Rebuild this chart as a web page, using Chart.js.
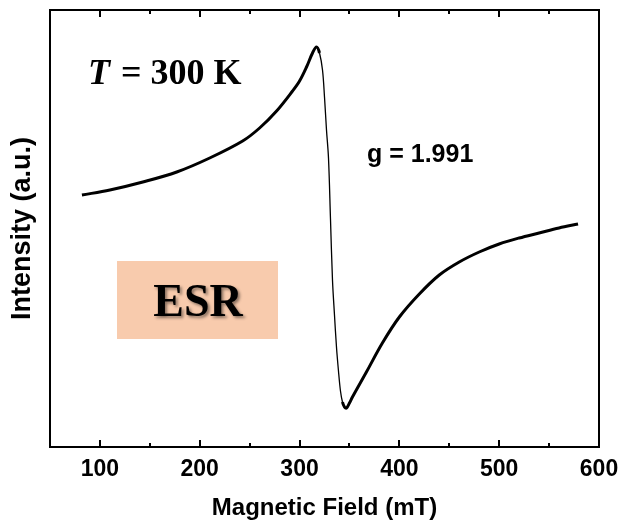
<!DOCTYPE html>
<html>
<head>
<meta charset="utf-8">
<script src="https://cdn.jsdelivr.net/npm/chart.js@4/dist/chart.umd.min.js"></script>
<style>
  html, body { margin: 0; padding: 0; background: #fff; }
  #wrap { width: 621px; height: 524px; }
</style>
</head>
<body>
<div id="wrap"><canvas id="esrChart" width="621" height="524"></canvas></div>
<script>
// ESR spectrum, magnetic field in mT, intensity in arbitrary units
var field = [82, 110, 143, 177, 210, 243, 260, 277, 293, 300, 307, 313, 317, 320, 323,
  325, 327, 329, 331, 333, 335, 337, 339, 341, 343, 345, 347, 350, 353, 367, 383, 400,
  420, 440, 460, 480, 500, 520, 540, 560, 579];
var intensity = [252, 257, 265, 275, 289, 306, 319, 336, 356, 366, 380, 394, 400, 394, 377,
  350, 317, 289, 228, 167, 132, 100, 76, 56, 45, 40, 39, 44, 50, 75, 104, 130,
  153, 172, 185, 195, 203, 209, 214, 219, 223];
var xTicks = [100, 200, 300, 400, 500, 600];
var xMinorTicks = [150, 250, 350, 450, 550];

var points = field.map((f, i) => ({ x: f, y: intensity[i] }));

// frame, inward ticks and text labels
const decorations = {
  id: 'decorations',
  afterDatasetsDraw(chart) {
    const ctx = chart.ctx;
    const a = chart.chartArea;
    const xs = chart.scales.x;
    ctx.save();
    ctx.strokeStyle = '#000';
    ctx.lineWidth = 2;
    ctx.strokeRect(a.left, a.top, a.right - a.left, a.bottom - a.top);
    ctx.beginPath();
    xTicks.forEach(v => {
      const px = Math.round(xs.getPixelForValue(v));
      ctx.moveTo(px, a.bottom); ctx.lineTo(px, a.bottom - 7);
      ctx.moveTo(px, a.top); ctx.lineTo(px, a.top + 7);
    });
    xMinorTicks.forEach(v => {
      const px = Math.round(xs.getPixelForValue(v));
      ctx.moveTo(px, a.bottom); ctx.lineTo(px, a.bottom - 4);
      ctx.moveTo(px, a.top); ctx.lineTo(px, a.top + 4);
    });
    ctx.stroke();

    ctx.fillStyle = '#000';
    ctx.textBaseline = 'alphabetic';
    ctx.textAlign = 'left';
    // T = 300 K
    ctx.font = 'italic bold 36px "Liberation Serif"';
    ctx.fillText('T', 88, 84);
    let x = 88 + ctx.measureText('T').width + 2;
    ctx.font = 'bold 36px "Liberation Serif"';
    ctx.fillText('= 300 K', x + 9, 84);

    // g factor
    ctx.font = 'bold 25px "Liberation Sans"';
    ctx.fillText('g = 1.991', 367, 162);

    // ESR badge
    ctx.fillStyle = '#f8cbad';
    ctx.fillRect(117, 261, 161, 78);
    ctx.font = 'bold 46px "Liberation Serif"';
    ctx.textAlign = 'center';
    ctx.shadowColor = 'rgba(0,0,0,0.45)';
    ctx.shadowBlur = 3;
    ctx.shadowOffsetX = 2;
    ctx.shadowOffsetY = 2;
    ctx.fillStyle = '#000';
    ctx.fillText('ESR', 198, 316);
    ctx.restore();
  }
};

new Chart("esrChart", {
  type: "line",
  data: {
    datasets: [{
      data: points,
      borderColor: "#000",
      borderWidth: 3,
      pointRadius: 0,
      tension: 0.35,
      segment: {
        // the steep flank of the signal is drawn thinner
        borderWidth: c => {
          const dx = Math.abs(c.p1.x - c.p0.x);
          const dy = Math.abs(c.p1.y - c.p0.y);
          return dy > 5 * dx ? 1.3 : 3;
        }
      }
    }]
  },
  options: {
    responsive: false,
    animation: false,
    layout: { padding: { top: 10, right: 22, left: 0, bottom: 0 } },
    plugins: { legend: { display: false }, tooltip: { enabled: false } },
    scales: {
      x: {
        type: "linear",
        min: 50,
        max: 600,
        afterFit: s => { s.height = 77; s.paddingLeft = 0; s.paddingRight = 0; },
        afterBuildTicks: s => { s.ticks = xTicks.map(v => ({ value: v })); },
        grid: { display: false, drawTicks: false },
        border: { display: false },
        ticks: {
          padding: 9,
          color: "#000",
          maxRotation: 0,
          font: { family: "Liberation Sans", size: 23, weight: "bold" }
        },
        title: {
          display: true,
          text: "Magnetic Field (mT)",
          color: "#000",
          padding: { top: 0, bottom: 1 },
          font: { family: "Liberation Sans", size: 24, weight: "bold" }
        }
      },
      y: {
        min: 0,
        max: 437,
        afterFit: s => { s.width = 50; },
        grid: { display: false, drawTicks: false },
        border: { display: false },
        ticks: { display: false },
        title: {
          display: true,
          text: "Intensity (a.u.)",
          color: "#000",
          padding: { top: 6, bottom: 0 },
          font: { family: "Liberation Sans", size: 27, weight: "bold" }
        }
      }
    }
  },
  plugins: [decorations]
});
</script>
</body>
</html>
